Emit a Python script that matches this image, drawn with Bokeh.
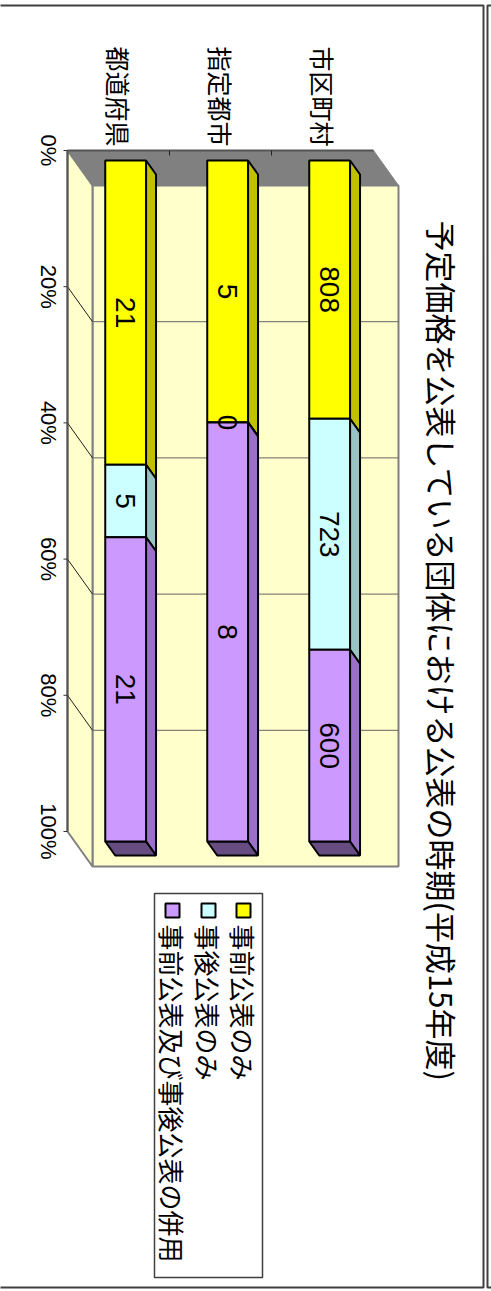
import math
from bokeh.plotting import figure
from bokeh.models import Range1d, ColumnDataSource
from bokeh.core.properties import value
from bokeh.embed import file_html
from bokeh.resources import INLINE

# ---------------- data ----------------
categories = ["都道府県", "指定都市", "市区町村"]
series_names = ["事前公表のみ", "事後公表のみ", "事前公表及び事後公表の併用"]
before_only = [21, 5, 808]
after_only = [5, 0, 723]
both = [21, 8, 600]
value_ticks = [0, 20, 40, 60, 80, 100]
tick_labels = ["0%", "20%", "40%", "60%", "80%", "100%"]
title_text = "予定価格を公表している団体における公表の時期(平成15年度)"

front_colors = ["#FFFF00", "#CCFFFF", "#CC99FF"]
side_colors = ["#C0C000", "#99C2C2", "#9A70C8"]
bottom_color = "#664C80"
wall_color = "#FFFFCC"
floor_color = "#808080"

# ---------------- geometry (page is a rotated 3-D chart) ----------------
W, H = 491, 1291
X0_PX, Y0_PX = 67, 150        # front corner of the 0 % plane
CAT_PX = 102                  # width of one category
PCT_PX = 6.81                 # one percent
DEPTH_X_PX, DEPTH_Y_PX = 25, 35


def px_x(px):
    return (px - X0_PX) / CAT_PX


def px_y(py):
    return (py - Y0_PX) / PCT_PX


DX = DEPTH_X_PX / CAT_PX
DY = DEPTH_Y_PX / PCT_PX
T0 = 0.2857      # depth where bars begin
TB = 0.40        # bar depth
BAR_W = 0.40
NCAT = len(categories)

p = figure(width=W, height=H,
           x_range=Range1d(px_x(0), px_x(W)),
           y_range=Range1d(px_y(H), px_y(0)),
           output_backend="svg", toolbar_location=None, min_border=0,
           x_axis_location=None, y_axis_location=None,
           outline_line_color=None, background_fill_color="white",
           border_fill_color="white")
p.grid.visible = False

CJK = value("Noto Sans CJK JP")
LAT = value("Liberation Sans")

# outer frames
p.quad(left=px_x(-3), right=px_x(483), top=px_y(5), bottom=px_y(1287),
       fill_color=None, line_color="#404040", line_width=2)
p.quad(left=px_x(487), right=px_x(500), top=px_y(5), bottom=px_y(1287),
       fill_color=None, line_color="#404040", line_width=2)

# walls
p.quad(left=DX, right=NCAT + DX, top=DY, bottom=100 + DY,
       fill_color=wall_color, line_color="#808080", line_width=2)
p.patch([0, NCAT, NCAT + DX, DX], [0, 0, DY, DY],
        fill_color=floor_color, line_color="#808080", line_width=1)
p.patch([0, DX, DX, 0], [0, DY, 100 + DY, 100],
        fill_color=wall_color, line_color="#808080", line_width=2)

inner = value_ticks[1:-1]
p.segment(x0=[DX] * len(inner), x1=[NCAT + DX] * len(inner),
          y0=[t + DY for t in inner], y1=[t + DY for t in inner],
          line_color="#666666", line_width=1)
p.segment(x0=[0] * len(inner), x1=[DX] * len(inner),
          y0=inner, y1=[t + DY for t in inner],
          line_color="#202020", line_width=1)

# front axis lines and ticks
p.line([0, 0], [0, 100], line_color="#555555", line_width=2)
p.line([0, NCAT], [0, 0], line_color="#555555", line_width=2)
p.segment(x0=[px_x(63)] * len(value_ticks), x1=[0] * len(value_ticks),
          y0=value_ticks, y1=value_ticks, line_color="#333333", line_width=1)
cat_div = list(range(1, NCAT))
p.segment(x0=cat_div, x1=cat_div, y0=[0] * len(cat_div),
          y1=[5 / PCT_PX] * len(cat_div), line_color="#222222", line_width=1)

# ---------------- bars ----------------
series = [before_only, after_only, both]
fl, fr, ft, fb, fc = [], [], [], [], []
sxs, sys_, sc = [], [], []
lx, ly, lt = [], [], []
bxs, bys = [], []
for i in range(NCAT):
    total = sum(s[i] for s in series)
    c = i + 0.5
    L = c - BAR_W / 2 + T0 * DX
    R = c + BAR_W / 2 + T0 * DX
    cum = 0.0
    for k, s in enumerate(series):
        p0 = cum
        p1 = cum + 100.0 * s[i] / total
        cum = p1
        fl.append(L); fr.append(R)
        ft.append(p0 + T0 * DY); fb.append(p1 + T0 * DY)
        fc.append(front_colors[k])
        sxs.append([R, R + TB * DX, R + TB * DX, R])
        sys_.append([p0 + T0 * DY, p0 + (T0 + TB) * DY,
                     p1 + (T0 + TB) * DY, p1 + T0 * DY])
        sc.append(side_colors[k])
        lx.append((L + R) / 2)
        ly.append((p0 + p1) / 2 + T0 * DY)
        lt.append(str(s[i]))
    bxs.append([L, R, R + TB * DX, L + TB * DX])
    bys.append([100 + T0 * DY, 100 + T0 * DY,
                100 + (T0 + TB) * DY, 100 + (T0 + TB) * DY])

p.patches(xs=sxs, ys=sys_, fill_color=sc, line_color="black", line_width=2)
p.patches(xs=bxs, ys=bys, fill_color=bottom_color, line_color="black",
          line_width=2)
p.quad(source=ColumnDataSource(dict(left=fl, right=fr, top=ft, bottom=fb,
                                    color=fc)),
       left="left", right="right", top="top", bottom="bottom",
       fill_color="color", line_color="black", line_width=2)

p.text(x=lx, y=ly, text=lt, angle=-math.pi / 2, text_align="center",
       text_baseline="middle", text_font=LAT, text_font_size="28px",
       text_color="black")

# value tick labels
p.text(x=[px_x(48)] * len(value_ticks), y=value_ticks, text=tick_labels,
       angle=-math.pi / 2, text_align="center", text_baseline="middle",
       text_font=LAT, text_font_size="22px", text_color="black")

# category labels
p.text(x=[i + 0.5 for i in range(NCAT)], y=[px_y(146)] * NCAT,
       text=categories, angle=-math.pi / 2, text_align="right",
       text_baseline="middle", text_font=CJK, text_font_size="25px",
       text_color="black")

# title
p.text(x=[px_x(442)], y=[px_y(220)], text=[title_text], angle=-math.pi / 2,
       text_align="left", text_baseline="middle", text_font=CJK,
       text_font_size="31px", text_color="black")

# legend
p.quad(left=px_x(154), right=px_x(262), top=px_y(893), bottom=px_y(1277),
       fill_color="white", line_color="#404040", line_width=1.5)
leg_x = [px_x(243), px_x(208), px_x(172)]
p.scatter(x=leg_x, y=[px_y(910)] * 3, marker="square", size=14,
          fill_color=front_colors, line_color="black", line_width=2)
p.text(x=leg_x, y=[px_y(924)] * 3, text=series_names, angle=-math.pi / 2,
       text_align="left", text_baseline="middle", text_font=CJK,
       text_font_size="26px", text_color="black")

open("out.html", "w").write(file_html(p, INLINE))
